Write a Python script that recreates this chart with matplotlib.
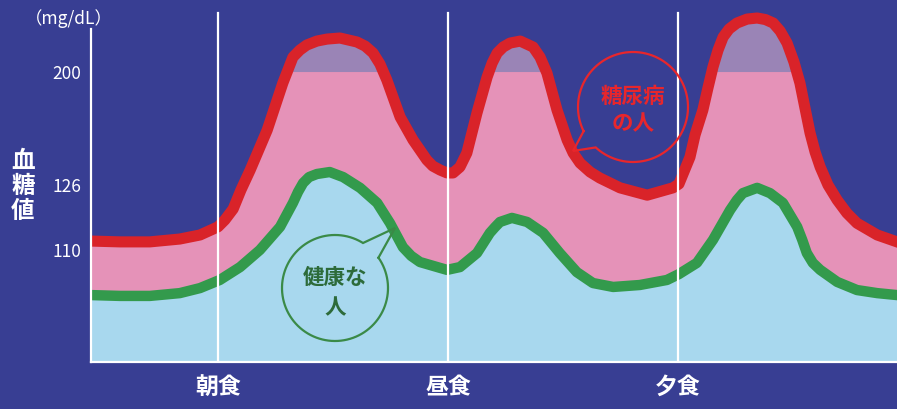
import numpy as np
import matplotlib
matplotlib.use("Agg")
import matplotlib.pyplot as plt

plt.rcParams["font.family"] = ["Noto Sans CJK JP", "DejaVu Sans"]

# ---- data -------------------------------------------------------------
# time of day (hours) and blood glucose (mg/dL)
diabetic_hours = [4.24, 4.87, 5.52, 6.17, 6.61, 7.00, 7.15, 7.33, 7.50, 7.70,
                  8.07, 8.41, 8.63, 8.78, 8.93, 9.15, 9.37, 9.65, 10.02, 10.20,
                  10.37, 10.52, 10.67, 10.96, 11.24, 11.54, 11.67, 11.83, 11.98, 12.11,
                  12.26, 12.41, 12.63, 12.85, 12.96, 13.07, 13.20, 13.35, 13.57, 13.85,
                  14.00, 14.15, 14.37, 14.59, 14.72, 14.87, 15.09, 15.30, 15.74, 16.33,
                  16.89, 17.02, 17.26, 17.37, 17.54, 17.65, 17.76, 17.87, 17.98, 18.11,
                  18.28, 18.50, 18.72, 18.90, 19.07, 19.22, 19.37, 19.52, 19.65, 19.76,
                  19.87, 19.98, 20.09, 20.26, 20.46, 20.67, 20.89, 21.33, 21.76]
diabetic = [112.2, 112.0, 112.0, 112.7, 113.7, 115.7, 117.4, 120.1, 124.8, 135.8,
            162.0, 192.8, 209.8, 214.4, 217.7, 220.3, 221.6, 222.3, 219.7, 217.0,
            212.5, 205.3, 194.8, 170.5, 155.5, 142.4, 138.4, 135.8, 133.9, 133.9,
            137.8, 147.0, 173.2, 196.7, 205.9, 212.5, 216.4, 219.0, 220.3, 216.4,
            209.8, 199.4, 175.1, 155.5, 147.0, 140.4, 134.5, 130.6, 125.3, 123.5,
            125.3, 126.7, 144.3, 158.8, 175.1, 189.5, 203.3, 214.4, 222.9, 228.2,
            232.1, 234.7, 235.4, 234.4, 232.1, 226.9, 219.0, 206.6, 192.8, 176.4,
            160.1, 147.6, 137.8, 126.0, 122.3, 119.1, 116.6, 113.7, 112.0]

healthy_hours = [4.24, 4.87, 5.52, 6.17, 6.61, 7.04, 7.48, 7.91, 8.35, 8.63,
                 8.74, 8.85, 8.98, 9.15, 9.43, 9.72, 10.09, 10.46, 10.74, 11.02,
                 11.20, 11.39, 11.83, 11.98, 12.26, 12.63, 12.91, 13.02, 13.13, 13.39,
                 13.72, 14.07, 14.43, 14.80, 15.15, 15.59, 16.17, 16.76, 17.02, 17.41,
                 17.76, 18.13, 18.28, 18.41, 18.72, 19.00, 19.28, 19.59, 19.70, 19.80,
                 19.93, 20.09, 20.46, 20.89, 21.33, 21.76]
healthy = [93.9, 93.6, 93.6, 94.6, 96.4, 99.3, 103.9, 110.0, 115.7, 121.6,
           124.3, 127.3, 131.2, 133.2, 134.5, 131.2, 125.3, 121.6, 116.6, 110.7,
           107.9, 105.7, 103.6, 102.9, 103.9, 108.9, 114.2, 115.6, 116.9, 117.9,
           116.9, 114.2, 108.9, 102.1, 98.2, 96.8, 97.5, 99.3, 101.4, 105.4,
           112.5, 119.8, 122.3, 124.0, 125.3, 124.0, 121.6, 115.7, 112.5, 108.9,
           105.4, 102.9, 98.6, 95.7, 94.6, 93.9]

meal_hours = [7, 12, 17]
meal_labels = ["朝食", "昼食", "夕食"]
y_ticks = [110, 126, 200]
high_line = 200

# ---- colours ----------------------------------------------------------
BG = "#383e93"
PINK = "#e592b8"
SKY = "#a8d8ee"
PURPLE = "#9a84b6"
RED = "#d92329"
GREEN = "#339a4c"
RED_TXT = "#e8262c"
GREEN_CIRC = "#3a8a47"
GREEN_TXT = "#2d6b3a"

# ---- schematic (piecewise linear) glucose axis -------------------------
scale_vals = np.array([-930.0, 70.0, 110.0, 126.0, 240.0, 1240.0])
scale_pos = np.array([-2800.0, 0.0, 112.0, 177.0, 351.0, 1877.0])


def fwd(v):
    return np.interp(np.asarray(v, float), scale_vals, scale_pos)


def inv(p):
    return np.interp(np.asarray(p, float), scale_pos, scale_vals)


W, H = 897, 409
fig = plt.figure(figsize=(W / 100, H / 100), dpi=100, facecolor=BG)
ax = fig.add_axes([91 / W, (H - 362) / H, (W - 91) / W, 351 / H])
ax.set_facecolor(BG)
ax.set_yscale("function", functions=(fwd, inv))
ax.set_xlim(4.24, 21.76)
ax.set_ylim(70, 240)

dh = np.array(diabetic_hours)
dv = np.array(diabetic)
hh = np.array(healthy_hours)
hv = np.array(healthy)

ax.fill_between(dh, 70, dv, color=PINK, lw=0, zorder=1)
ax.fill_between(dh, high_line, np.maximum(dv, high_line), where=dv >= high_line,
                interpolate=True, color=PURPLE, lw=0, zorder=1.2)
ax.fill_between(hh, 70, hv, color=SKY, lw=0, zorder=1.5)
ax.plot(hh, hv, color=GREEN, lw=7.5, solid_joinstyle="round", zorder=3)
ax.plot(dh, dv, color=RED, lw=8, solid_joinstyle="round", zorder=3.2)

for t in meal_hours:
    ax.axvline(t, ymin=0, ymax=0.994, color="white", lw=1.6, zorder=4)

for s in ["top", "right"]:
    ax.spines[s].set_visible(False)
for s in ["left", "bottom"]:
    ax.spines[s].set_color("white")
    ax.spines[s].set_linewidth(1.6)
    ax.spines[s].set_zorder(5)
ax.spines["left"].set_bounds(70, 228)

ax.set_yticks(y_ticks)
ax.set_yticklabels([str(v) for v in y_ticks])
ax.tick_params(axis="y", length=0, pad=7, labelcolor="white", labelsize=12.5)
ax.set_xticks(meal_hours)
ax.set_xticklabels(meal_labels)
ax.tick_params(axis="x", length=0, pad=10, labelcolor="white", labelsize=16.5)
for lbl in ax.get_xticklabels():
    lbl.set_fontweight("bold")

# ---- overlay in pixel units for labels and speech bubbles --------------
ov = fig.add_axes([0, 0, 1, 1], zorder=10)
ov.set_xlim(0, W)
ov.set_ylim(H, 0)
ov.axis("off")
ov.patch.set_alpha(0)

ov.text(69, 19, "（mg/dL）", color="white", fontsize=12.5, ha="center", va="center")
ov.text(23, 186, "血\n糖\n値", color="white", fontsize=17, fontweight="bold",
        ha="center", va="center", linespacing=1.05)


def bubble(cx, cy, r, a_start, a_end, tip, color, lw):
    ang = np.radians(np.linspace(a_start, a_end, 200))
    xs = list(cx + r * np.cos(ang))
    ys = list(cy + r * np.sin(ang))
    xs += [tip[0], xs[0]]
    ys += [tip[1], ys[0]]
    ov.plot(xs, ys, color=color, lw=lw, solid_joinstyle="miter")


bubble(633, 107, 55, 153.9, 132.7 + 360, (573, 151), RED_TXT, 1.6)
ov.text(633, 96, "糖尿病", color=RED_TXT, fontsize=15.5, fontweight="bold",
        ha="center", va="center")
ov.text(633, 124, "の人", color=RED_TXT, fontsize=15.5, fontweight="bold",
        ha="center", va="center")

bubble(335, 288, 53, -34.9, -58.1 + 360, (395, 228), GREEN_CIRC, 1.6)
ov.text(335, 277, "健康な", color=GREEN_TXT, fontsize=15.5, fontweight="bold",
        ha="center", va="center")
ov.text(335, 308, "人", color=GREEN_TXT, fontsize=15.5, fontweight="bold",
        ha="center", va="center")

fig.savefig("out.png", dpi=100, facecolor=BG)
